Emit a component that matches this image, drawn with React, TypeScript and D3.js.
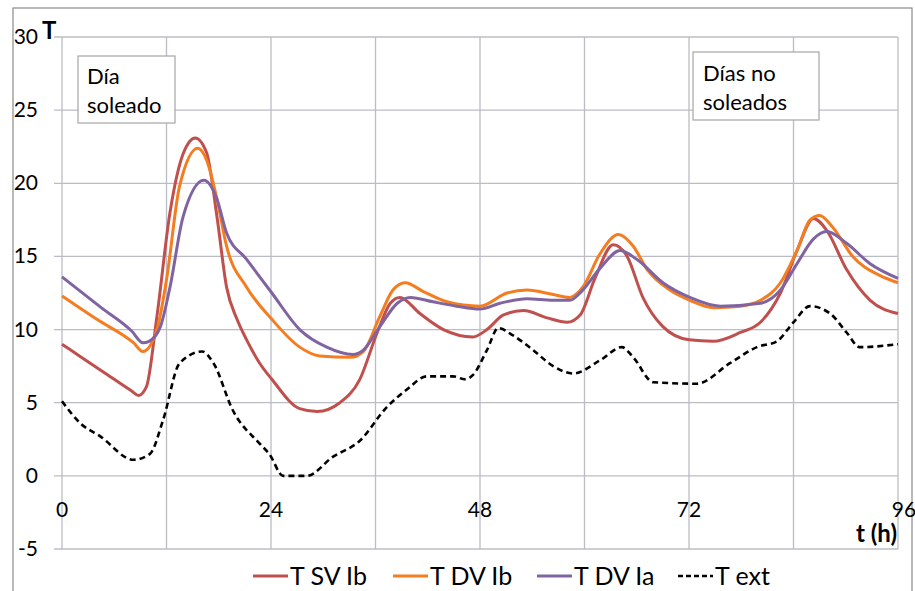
import React from 'react';
import * as d3 from 'd3';

// hours, temperature (°C)
const tSvIb: [number, number][] = [
  [0, 9.0], [2, 8.2], [5, 7.0], [8, 5.8], [8.8, 5.5], [9.7, 6.1], [10.9, 10.9], [12.4, 18.0],
  [13.9, 22.0], [15.3, 23.1], [16.6, 22.1], [17.8, 17.7], [18.9, 12.9], [20.1, 10.7], [21.2, 9.3],
  [22.7, 7.7], [24.1, 6.6], [27.3, 4.6], [29.3, 4.4], [31.9, 5.0], [34.2, 6.6], [36.2, 9.8],
  [37.7, 11.8], [38.8, 12.2], [41.1, 11.1], [43.8, 10.0], [47.2, 9.5], [48.8, 10.0], [50.7, 11.0],
  [53, 11.3], [55.7, 10.8], [58, 10.5], [59.5, 11.0], [61.2, 13.5], [63.3, 15.8], [64.9, 15.0],
  [66.7, 12.2], [69, 10.2], [72, 9.3], [74.8, 9.2], [77.9, 9.8], [80.2, 10.5], [82.5, 12.5],
  [84.4, 15.4], [86.3, 17.6], [87.8, 16.8], [90.1, 14.1], [92.8, 12.0], [96, 11.1],
];

const tDvIb: [number, number][] = [
  [0, 12.3], [4, 10.7], [8.2, 9.1], [9.3, 8.5], [10.9, 10.0], [12, 13.4], [13.5, 19.8],
  [15.6, 22.4], [16.6, 21.6], [17.8, 18.9], [18.9, 15.7], [21.2, 12.9], [24.1, 10.7], [27.3, 8.8],
  [29.6, 8.2], [33.1, 8.1], [34.6, 8.5], [36.5, 10.9], [38, 12.7], [39.4, 13.2], [41.5, 12.6],
  [44.2, 11.9], [48, 11.6], [51.1, 12.5], [53.4, 12.7], [56.4, 12.4], [58.3, 12.2], [59.8, 12.9],
  [61.8, 15.2], [63.9, 16.5], [65.6, 15.7], [67.2, 14.1], [69.8, 12.7], [72.1, 12.0], [74.8, 11.5],
  [77.9, 11.6], [80.2, 12.0], [82.5, 13.2], [84.4, 15.4], [85.9, 17.5], [87, 17.8], [88.5, 17.0],
  [90.8, 15.0], [93.9, 13.7], [96, 13.2],
];

const tDvIa: [number, number][] = [
  [0, 13.6], [4.5, 11.5], [8, 9.9], [9.3, 9.1], [10, 9.2], [11.3, 10.2], [12.4, 12.9], [13.9, 17.7],
  [16.3, 20.2], [17.8, 18.9], [18.9, 16.6], [21.2, 14.8], [24.1, 12.5], [27.3, 10.0], [30.4, 8.8],
  [33.4, 8.3], [34.6, 8.6], [36.5, 10.2], [38.5, 11.8], [40, 12.2], [42.6, 11.9], [45.3, 11.6],
  [48, 11.4], [50.3, 11.8], [53.4, 12.1], [56.4, 12.0], [58.3, 12.0], [59.8, 12.7], [61.8, 14.2],
  [64.1, 15.4], [66, 14.8], [69, 13.2], [72.1, 12.2], [75.6, 11.6], [80.2, 11.8], [82.5, 12.7],
  [84.4, 14.5], [86.3, 16.2], [87.8, 16.7], [90.1, 15.9], [92.8, 14.5], [96, 13.5],
];

const tExt: [number, number][] = [
  [0, 5.1], [2.1, 3.6], [4.4, 2.7], [8.2, 1.1], [10.1, 1.5], [11.6, 3.8], [13.5, 7.7], [16.1, 8.5],
  [17.4, 7.7], [19.6, 4.5], [22.7, 2.2], [23.8, 1.5], [25.4, 0], [28.1, 0], [31.1, 1.3], [34.2, 2.4],
  [37.3, 4.7], [39.6, 5.9], [41.9, 6.8], [44.9, 6.8], [46.3, 6.6], [47.2, 6.9], [48.8, 8.6],
  [50.1, 10.1], [51.8, 9.6], [54.1, 8.6], [56.4, 7.5], [58.7, 7.0], [61.8, 7.9], [64.3, 8.8],
  [65.6, 8.1], [67.9, 6.4], [72.9, 6.3], [76.7, 7.7], [79.8, 8.8], [82.1, 9.2], [84, 10.5],
  [85.9, 11.6], [88.2, 11.1], [90.1, 9.8], [91.6, 8.8], [96, 9.0],
];

const xTicks = [0, 24, 48, 72, 96];
const yTicks = [-5, 0, 5, 10, 15, 20, 25, 30];
const xGrid = [0, 12, 24, 36, 48, 60, 72, 84, 96];

const series = [
  { name: 'T SV Ib', data: tSvIb, color: '#c0504d', dash: null, legendX: 253 },
  { name: 'T DV Ib', data: tDvIb, color: '#f47d20', dash: null, legendX: 393 },
  { name: 'T DV Ia', data: tDvIa, color: '#8064a2', dash: null, legendX: 537 },
  { name: 'T ext', data: tExt, color: '#000000', dash: '6,4', legendX: 678 },
];

const W = 915;
const H = 591;
const font = 'Lato, "Open Sans", sans-serif';

export default function App() {
  const x = d3.scaleLinear().domain([0, 96]).range([62, 898]);
  const y = d3.scaleLinear().domain([-5, 30]).range([549, 37]);
  const line = d3.line<[number, number]>()
    .x(d => x(d[0]))
    .y(d => y(d[1]))
    .curve(d3.curveMonotoneX);
  const gridColor = '#bcbcc6';

  return (
    <svg width={W} height={H} style={{ position: 'absolute', left: 0, top: 0, background: '#fff' }}
      fontFamily={font}>
      <rect x={13} y={8} width={899} height={H} fill="#fff" stroke="#8a8a8a" strokeWidth={1.2} />

      {/* grid */}
      {yTicks.map(v => (
        <line key={'h' + v} x1={54} x2={x(96)} y1={y(v)} y2={y(v)} stroke={gridColor} strokeWidth={1.3} />
      ))}
      {xGrid.map(v => (
        <line key={'v' + v} x1={x(v)} x2={x(v)} y1={y(30)} y2={y(-5)} stroke={gridColor} strokeWidth={1.3} />
      ))}

      {/* y labels */}
      {yTicks.map(v => (
        <text key={'yl' + v} x={38} y={y(v) + 7} textAnchor="end" fontSize={21} fill="#000">{v}</text>
      ))}
      <text x={42} y={39} fontSize={24} fontWeight="bold">T</text>

      {/* x labels */}
      {xTicks.map(v => (
        <text key={'xl' + v} x={x(v) + (v === 96 ? 6 : 0)} y={517} textAnchor="middle" fontSize={21}>{v}</text>
      ))}
      <text x={897} y={542} textAnchor="end" fontSize={24} fontWeight="bold">t (h)</text>

      {/* annotation boxes */}
      <rect x={78} y={56} width={97} height={67} fill="#fff" stroke="#a6a6a6" strokeWidth={1.2} />
      <text x={87} y={84} fontSize={22}>Día</text>
      <text x={87} y={113} fontSize={22}>soleado</text>
      <rect x={693} y={52} width={126} height={68} fill="#fff" stroke="#a6a6a6" strokeWidth={1.2} />
      <text x={703} y={81} fontSize={22}>Días no</text>
      <text x={703} y={110} fontSize={22}>soleados</text>

      {/* series */}
      {series.map(s => (
        <path key={s.name} d={line(s.data) || ''} fill="none" stroke={s.color}
          strokeWidth={s.dash ? 2.6 : 3} strokeDasharray={s.dash || undefined}
          strokeLinejoin="round" />
      ))}

      {/* legend */}
      {series.map(s => (
        <g key={'lg' + s.name}>
          <line x1={s.legendX} x2={s.legendX + 35} y1={576} y2={576} stroke={s.color}
            strokeWidth={s.dash ? 2.4 : 3} strokeDasharray={s.dash ? '5,3' : undefined} />
          <text x={s.legendX + 37} y={585} fontSize={25}>{s.name}</text>
        </g>
      ))}
    </svg>
  );
}
